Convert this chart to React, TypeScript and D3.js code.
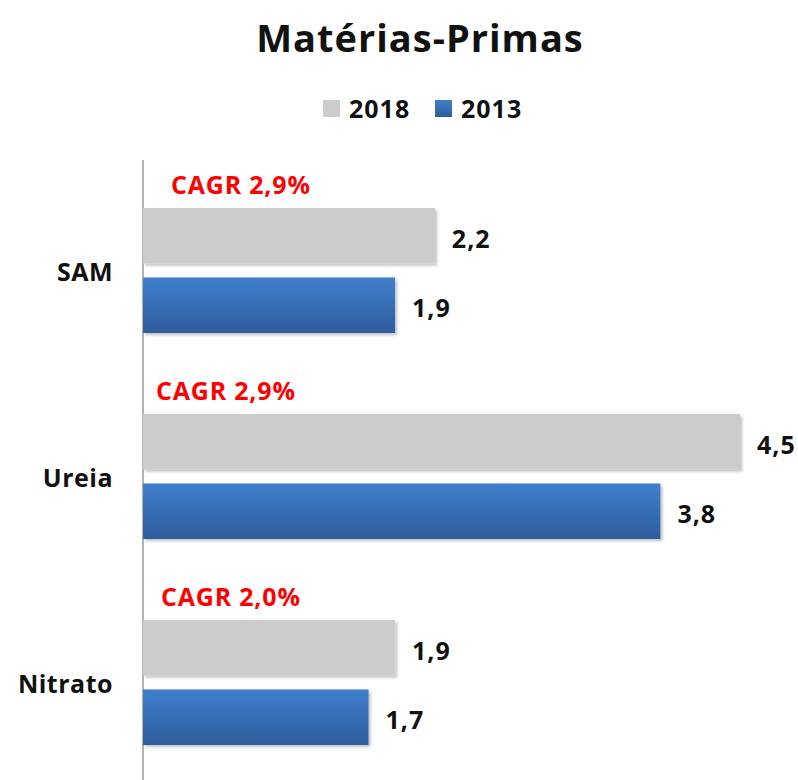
import { useEffect } from 'react';
import * as d3 from 'd3';

// dados do grafico
const categorias = ['SAM', 'Ureia', 'Nitrato'];
const series = ['2018', '2013'];
const valores2018 = [2.2, 4.5, 1.9];
const valores2013 = [1.9, 3.9, 1.7];
const rotulos2018 = ['2,2', '4,5', '1,9'];
const rotulos2013 = ['1,9', '3,8', '1,7'];
const cagr = ['CAGR 2,9%', 'CAGR 2,9%', 'CAGR 2,0%'];

const W = 798;
const H = 780;
const fonte = '"Open Sans", "DejaVu Sans", sans-serif';
const cinza = '#cccccc';
const cagrDx = [28, 13, 18]; // deslocamento do texto CAGR

const App = () => {
  useEffect(() => {
    document.body.style.margin = '0';
  }, []);

  const y = d3.scaleBand<string>().domain(categorias).range([168, 786]);
  const ySub = d3.scaleBand<string>().domain(series).range([40, 165]).paddingInner(0.2);
  const x = d3.scaleLinear().domain([0, 4.5]).range([143, 740]);

  const valores = [valores2018, valores2013];
  const rotulos = [rotulos2018, rotulos2013];

  return (
    <svg width={W} height={H} style={{ display: 'block', background: '#fff' }} fontFamily={fonte}>
      <defs>
        <linearGradient id="azul" x1="0" y1="0" x2="0" y2="1">
          <stop offset="0%" stopColor="#3f7fcd" />
          <stop offset="100%" stopColor="#2e5d9c" />
        </linearGradient>
        <filter id="sombra" x="-5%" y="-10%" width="115%" height="140%">
          <feDropShadow dx="2" dy="2" stdDeviation="1.5" floodColor="#000" floodOpacity="0.25" />
        </filter>
      </defs>

      {/* titulo */}
      <text x={420} y={52} textAnchor="middle" fontSize={38} fontWeight="bold" fill="#111" letterSpacing={1}>
        Matérias-Primas
      </text>

      {/* legenda */}
      <rect x={323} y={100} width={17} height={17} fill={cinza} />
      <text x={349} y={118} fontSize={25} fontWeight="bold" fill="#111" letterSpacing={1}>2018</text>
      <rect x={435} y={100} width={17} height={17} fill="url(#azul)" />
      <text x={461} y={118} fontSize={25} fontWeight="bold" fill="#111" letterSpacing={1}>2013</text>

      {/* eixo */}
      <line x1={x(0)} x2={x(0)} y1={160} y2={H} stroke="#999" strokeWidth={1.5} />

      {categorias.map((c, i) => {
        const y0 = y(c) as number;
        return (
          <g key={c}>
            <text
              x={113}
              y={y0 + 103}
              textAnchor="end"
              dominantBaseline="central"
              fontSize={25}
              fontWeight="bold"
              fill="#111"
              letterSpacing={0.5}
            >
              {c}
            </text>
            <text
              x={x(0) + cagrDx[i]}
              y={y0 + 26}
              fontSize={25}
              fontWeight="bold"
              fill="#ff0000"
              letterSpacing={0.8}
            >
              {cagr[i]}
            </text>
            {series.map((s, j) => {
              const yb = y0 + (ySub(s) as number);
              const v = valores[j][i];
              return (
                <g key={s}>
                  <rect
                    x={x(0)}
                    y={yb}
                    width={x(v) - x(0)}
                    height={ySub.bandwidth()}
                    fill={j === 0 ? cinza : 'url(#azul)'}
                    filter="url(#sombra)"
                  />
                  <text
                    x={x(v) + 17}
                    y={yb + ySub.bandwidth() / 2 + 2}
                    dominantBaseline="central"
                    fontSize={25}
                    fontWeight="bold"
                    fill="#111"
                    letterSpacing={1}
                  >
                    {rotulos[j][i]}
                  </text>
                </g>
              );
            })}
          </g>
        );
      })}
    </svg>
  );
};

export default App;
